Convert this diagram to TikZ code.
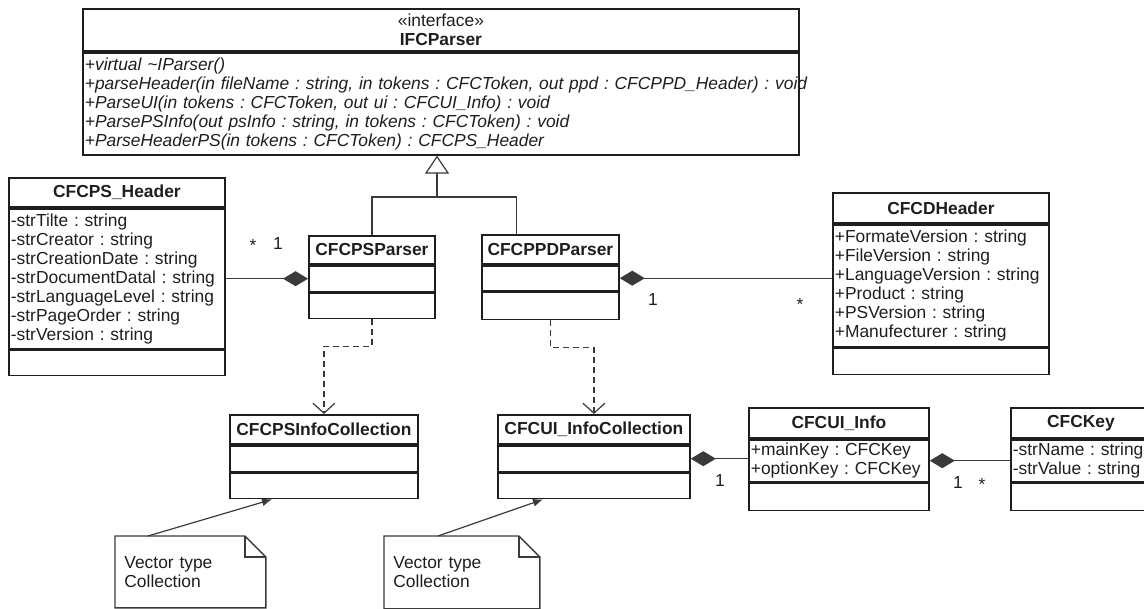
\documentclass[tikz,border=0pt]{standalone}
\usepackage{fontspec}
\setmainfont{Liberation Sans}
\usetikzlibrary{arrows.meta,positioning}
\frenchspacing
\definecolor{UmlInk}{HTML}{1E1E1E}
\definecolor{UmlLine}{HTML}{3A3A3A}
\tikzset{
  umlfont/.style={font=\fontsize{8.7}{9.5}\selectfont, text=UmlInk},
  umlw/.style={minimum width=#1, text width=#1-2pt},
  umlpart/.style={draw=UmlInk, line width=0.9pt, inner xsep=1pt, inner ysep=0pt, align=left},
  umlhead/.style={umlpart, align=center, font=\fontsize{8.7}{9.5}\selectfont\bfseries},
  umlops/.style={umlpart, font=\fontsize{8.7}{9.5}\selectfont\itshape},
  umlnote/.style={inner xsep=4.5pt, inner ysep=0pt, align=left},
  umlfold/.style={draw=UmlLine, line width=0.7pt},
  umlline/.style={draw=UmlLine, line width=0.6pt},
  umlgen/.style={umlline, -{Triangle[open,length=9pt,width=12pt]}},
  umldep/.style={umlline, dash pattern=on 3pt off 2pt, -{Straight Barb[length=5pt,width=11pt]}},
  umlcomp/.style={umlline, {Diamond[length=12.5pt,width=7.5pt]}-},
  umlanchor/.style={umlline, -{Latex[length=5pt,width=4pt]}},
  umlmult/.style={inner sep=0pt}
}

\begin{document}
\begin{tikzpicture}[x=0.5pt, y=-0.5pt, every node/.style={umlfont}]
\useasboundingbox (0,0) rectangle (1144,609);
% interface
\node[umlhead, umlw=358pt, minimum height=21pt, anchor=north west, font=\fontsize{8.7}{9.5}\selectfont] (ifc-h) at (82,8) {«interface»\\\textbf{IFCParser}};
\node[umlops, umlw=358pt, minimum height=51pt, below=0pt of ifc-h] (ifc-m) {+virtual \textasciitilde IParser()\\\mbox{+parseHeader(in fileName : string, in tokens : CFCToken, out ppd : CFCPPD\_Header) : void}\\+ParseUI(in tokens : CFCToken, out ui : CFCUI\_Info) : void\\+ParsePSInfo(out psInfo : string, in tokens : CFCToken) : void\\+ParseHeaderPS(in tokens : CFCToken) : CFCPS\_Header};
% header classes
\node[umlhead, umlw=108pt, minimum height=14.5pt, anchor=north west] (psh-h) at (8,177) {CFCPS\_Header};
\node[umlpart, umlw=108pt, minimum height=70pt, below=0pt of psh-h] (psh-a) {-strTilte : string\\-strCreator : string\\-strCreationDate : string\\-strDocumentDatal : string\\-strLanguageLevel : string\\-strPageOrder : string\\-strVersion : string};
\node[umlpart, umlw=108pt, minimum height=12.5pt, below=0pt of psh-a] (psh-o) {};
\node[umlhead, umlw=108pt, minimum height=15pt, anchor=north west] (cdh-h) at (832,192) {CFCDHeader};
\node[umlpart, umlw=108pt, minimum height=61pt, below=0pt of cdh-h] (cdh-a) {+FormateVersion : string\\+FileVersion : string\\+LanguageVersion : string\\+Product : string\\+PSVersion : string\\+Manufecturer : string};
\node[umlpart, umlw=108pt, minimum height=13pt, below=0pt of cdh-a] (cdh-o) {};
% parsers
\node[umlhead, umlw=63pt, minimum height=14pt, anchor=north west] (psp-h) at (308,235) {CFCPSParser};
\node[umlpart, umlw=63pt, minimum height=13pt, below=0pt of psp-h] (psp-a) {};
\node[umlpart, umlw=63pt, minimum height=12.5pt, below=0pt of psp-a] (psp-o) {};
\node[umlhead, umlw=68.5pt, minimum height=14.5pt, anchor=north west] (ppd-h) at (481,234) {CFCPPDParser};
\node[umlpart, umlw=68.5pt, minimum height=12.5pt, below=0pt of ppd-h] (ppd-a) {};
\node[umlpart, umlw=68.5pt, minimum height=13.5pt, below=0pt of ppd-a] (ppd-o) {};
% collections
\node[umlhead, umlw=94pt, minimum height=14.5pt, anchor=north west] (psic-h) at (229,414) {CFCPSInfoCollection};
\node[umlpart, umlw=94pt, minimum height=13pt, below=0pt of psic-h] (psic-a) {};
\node[umlpart, umlw=94pt, minimum height=12.5pt, below=0pt of psic-a] (psic-o) {};
\node[umlhead, umlw=96pt, minimum height=14.5pt, anchor=north west] (uic-h) at (497,414) {CFCUI\_InfoCollection};
\node[umlpart, umlw=96pt, minimum height=13pt, below=0pt of uic-h] (uic-a) {};
\node[umlpart, umlw=96pt, minimum height=12.5pt, below=0pt of uic-a] (uic-o) {};
% ui info and key
\node[umlhead, umlw=90pt, minimum height=15pt, anchor=north west] (uii-h) at (748,407) {CFCUI\_Info};
\node[umlpart, umlw=90pt, minimum height=21pt, below=0pt of uii-h] (uii-a) {+mainKey : CFCKey\\+optionKey : CFCKey};
\node[umlpart, umlw=90pt, minimum height=13.5pt, below=0pt of uii-a] (uii-o) {};
\node[umlhead, umlw=70pt, minimum height=15pt, anchor=north west] (key-h) at (1010,407) {CFCKey};
\node[umlpart, umlw=70pt, minimum height=21pt, below=0pt of key-h] (key-a) {-strName : string\\-strValue : string};
\node[umlpart, umlw=70pt, minimum height=13.5pt, below=0pt of key-a] (key-o) {};
% notes
\node[umlnote, minimum width=75pt, minimum height=35.5pt, text width=66pt, anchor=north west] (n1) at (115,536) {Vector type\\Collection};
\node[umlnote, minimum width=77.5pt, minimum height=36pt, text width=68.5pt, anchor=north west] (n2) at (384,536) {Vector type\\Collection};
\foreach \n in {n1,n2}{
  \draw[umlfold] (\n.north west) -- ([xshift=-10.5pt]\n.north east) -- ([yshift=-10.5pt]\n.north east) -- (\n.south east) -- (\n.south west) -- cycle;
  \draw[umlfold] ([xshift=-10.5pt]\n.north east) |- ([yshift=-10.5pt]\n.north east);
}
\draw[umlanchor] ([xshift=16.5pt]n1.north west) -- ([xshift=21.5pt]psic-o.south west);
\draw[umlanchor] ([xshift=27pt]n2.north west) -- ([xshift=23pt]uic-o.south west);
% generalization
\coordinate (gj) at (437,197);
\draw[umlline] (psp-h.north) |- (gj) -| ([xshift=-17pt]ppd-h.north);
\draw[umlgen] (gj) -- (gj |- ifc-m.south);
% dependencies
\foreach \a/\b in {psp/psic,ppd/uic}{\draw[umldep] (\a-o.south) -- ++(0,27) -| (\b-h.north);}
% compositions
\draw[umlcomp] (psp-a.west) -- (psh-a.east |- psp-a.west);
\draw[umlcomp] (ppd-a.east) -- (cdh-a.west |- ppd-a.east);
\draw[umlcomp] (uic-a.east) -- (uii-a.west |- uic-a.east);
\draw[umlcomp] (uii-a.east) -- (key-a.west |- uii-a.east);
\foreach \x/\y/\t [count=\i] in {253/246/*,278/244/1,653/300/1,800/305/*,720/481/1,958/483/1,982/485/*}
  \node[umlmult] (m\i) at (\x,\y) {\t};
\end{tikzpicture}
\end{document}
